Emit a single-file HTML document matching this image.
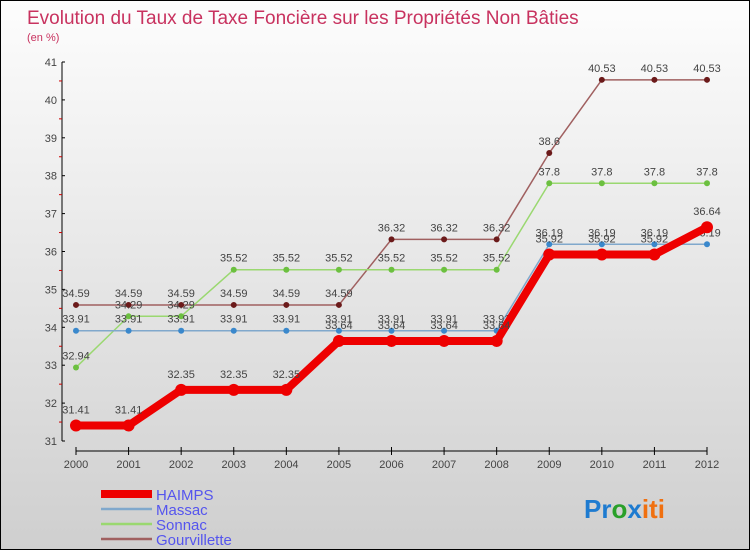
<!DOCTYPE html>
<html><head><meta charset="utf-8"><style>
body{margin:0}
#c{width:750px;height:550px;position:relative;box-sizing:border-box;border:1px solid #000;background:linear-gradient(#fdfdfd,#cfcfcf);font-family:"Liberation Sans",sans-serif;overflow:hidden}
</style></head><body>
<div id="c">
<svg id="s" width="750" height="550" style="position:absolute;left:0;top:0">
<text x="26" y="23" font-size="19" fill="#c8325f">Evolution du Taux de Taxe Foncière sur les Propriétés Non Bâties</text>
<text x="26" y="40" font-size="11" fill="#c8325f">(en %)</text>
<g id="g"></g>
<text x="583" y="517" font-size="26" font-weight="bold"><tspan fill="#1e7bd0">Pr</tspan><tspan fill="#2aa02a">o</tspan><tspan fill="#1e7bd0">x</tspan><tspan fill="#f07010">iti</tspan></text>
</svg>
</div>
<script>
const years=[2000,2001,2002,2003,2004,2005,2006,2007,2008,2009,2010,2011,2012];
const yTicks=[31,32,33,34,35,36,37,38,39,40,41];
const haimps=[31.41,31.41,32.35,32.35,32.35,33.64,33.64,33.64,33.64,35.92,35.92,35.92,36.64];
const massac=[33.91,33.91,33.91,33.91,33.91,33.91,33.91,33.91,33.91,36.19,36.19,36.19,36.19];
const sonnac=[32.94,34.29,34.29,35.52,35.52,35.52,35.52,35.52,35.52,37.8,37.8,37.8,37.8];
const gourv=[34.59,34.59,34.59,34.59,34.59,34.59,36.32,36.32,36.32,38.6,40.53,40.53,40.53];
const names=["HAIMPS","Massac","Sonnac","Gourvillette"];
const NS="http://www.w3.org/2000/svg";
const g=document.getElementById('g');
const X=i=>75+i*(706-75)/(years.length-1);
const Y=v=>440-(v-31)*37.9;
function el(t,a,p){const e=document.createElementNS(NS,t);for(const k in a)e.setAttribute(k,a[k]);(p||g).appendChild(e);return e;}
// axes
let a=el('line',{x1:61,y1:Y(41),x2:61,y2:Y(31),stroke:'#000'});


a=el('line',{x1:75,y1:450,x2:706,y2:450,stroke:'#000'});


yTicks.forEach((v,i)=>{
 el('line',{x1:61,y1:Y(v),x2:64,y2:Y(v),stroke:'#000'});
 if(i<yTicks.length-1)el('line',{x1:58,y1:Y(v+0.5),x2:61,y2:Y(v+0.5),stroke:'#c00'});
 const t=el('text',{x:56,y:Y(v)+4,'font-size':11,'text-anchor':'end',fill:'#444'});t.textContent=v;
 
 
});
years.forEach((y,i)=>{
 el('line',{x1:X(i),y1:446,x2:X(i),y2:454,stroke:'#000'});
 const t=el('text',{x:X(i),y:467,'font-size':11,'text-anchor':'middle',fill:'#444'});t.textContent=y;
 
 
});
const series=[
 {d:gourv,c:'#a06060',p:'#6b1a1a',w:1.5,r:3},
 {d:sonnac,c:'#9ad870',p:'#6cc040',w:1.5,r:3},
 {d:massac,c:'#80a8cc',p:'#3a88cc',w:1.5,r:3},
 {d:haimps,c:'#ee0000',p:'#ee0000',w:8,r:6}];
const sn=["gourvillette","sonnac","massac","haimps"];
series.forEach((s,k)=>{
 const pl=el('polyline',{points:s.d.map((v,i)=>X(i)+','+Y(v)).join(' '),fill:'none',stroke:s.c,'stroke-width':s.w,'stroke-linejoin':'round'});
 
 
 s.d.forEach((v,i)=>{
  const c=el('circle',{cx:X(i),cy:Y(v),r:s.r,fill:s.p});
  
  
  const t=el('text',{x:X(i),y:Y(v)-(k==3?12:8),'font-size':11,'text-anchor':'middle',fill:'#444'});t.textContent=v;
  
  
 });
});
// legend
const lc=['#ee0000','#80a8cc','#9ad870','#a06060'];
names.forEach((n,i)=>{
 const y=493+i*15;
 el('line',{x1:100,y1:y,x2:151,y2:y,stroke:lc[i],'stroke-width':i==0?8:2.5});
 const t=el('text',{x:155,y:y+6,'font-size':15,fill:'#5555ee'});t.textContent=n;
 
 
});
</script>
</body></html>
